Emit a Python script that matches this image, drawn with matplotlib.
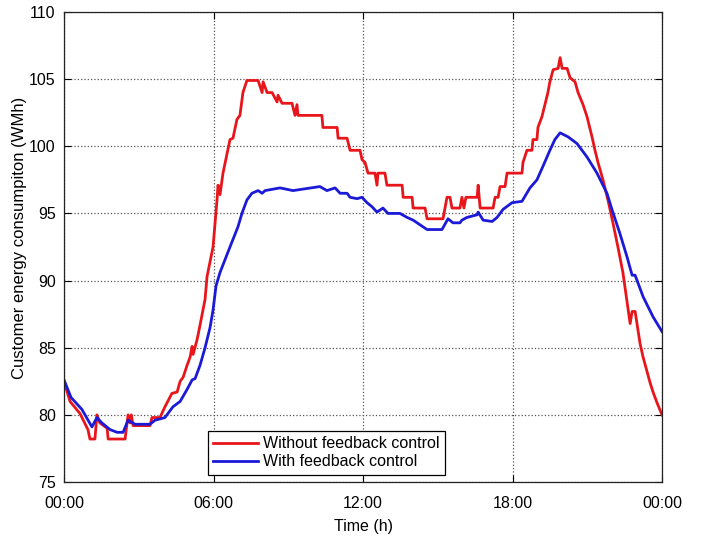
import matplotlib
matplotlib.use('Agg')
import matplotlib.pyplot as plt

plt.rcParams['font.family'] = ['Liberation Sans', 'DejaVu Sans']

# time in hours, consumption in WMh
t_without = [0.0, 0.24, 0.64, 0.96, 1.04, 1.24, 1.32, 1.44, 1.73, 1.77, 2.45, 2.57, 2.65,
             2.70, 2.77, 3.45, 3.53, 3.85, 4.05, 4.33, 4.54, 4.66, 4.78, 4.94, 5.06, 5.14,
             5.18, 5.34, 5.46, 5.66, 5.74, 5.98, 6.14, 6.18, 6.26, 6.38, 6.66, 6.78, 6.94,
             7.06, 7.18, 7.34, 7.79, 7.95, 7.99, 8.15, 8.35, 8.55, 8.59, 8.75, 9.15, 9.27,
             9.35, 9.39, 10.35, 10.39, 10.96, 11.00, 11.36, 11.48, 11.88, 11.96, 12.08,
             12.20, 12.48, 12.56, 12.60, 12.88, 12.96, 13.57, 13.61, 13.97, 14.01, 14.49,
             14.57, 15.21, 15.37, 15.49, 15.57, 15.89, 15.97, 16.05, 16.13, 16.58, 16.62,
             16.70, 17.22, 17.30, 17.42, 17.50, 17.70, 17.78, 18.38, 18.42, 18.58, 18.78,
             18.82, 18.98, 19.02, 19.18, 19.30, 19.42, 19.50, 19.63, 19.83, 19.91, 19.99,
             20.19, 20.31, 20.51, 20.63, 20.83, 20.99, 21.19, 21.31, 21.43, 21.63, 21.83,
             22.03, 22.23, 22.43, 22.72, 22.80, 22.92, 23.12, 23.24, 23.52, 23.64, 23.80,
             24.0]
without_fb = [82.5, 81.0, 80.1, 78.9, 78.2, 78.2, 80.0, 79.4, 79.0, 78.2, 78.2, 80.0, 79.4,
              80.0, 79.2, 79.2, 79.8, 79.8, 80.6, 81.6, 81.7, 82.5, 82.8, 83.7, 84.3, 85.1,
              84.5, 85.6, 86.7, 88.6, 90.3, 92.5, 96.0, 97.1, 96.4, 98.0, 100.5, 100.6, 102.0,
              102.3, 104.0, 104.9, 104.9, 104.0, 104.8, 104.0, 104.0, 103.3, 103.8, 103.2,
              103.2, 102.3, 103.1, 102.3, 102.3, 101.4, 101.4, 100.6, 100.6, 99.7, 99.7,
              99.0, 98.8, 98.0, 98.0, 97.1, 98.0, 98.0, 97.1, 97.1, 96.2, 96.2, 95.4, 95.4,
              94.6, 94.6, 96.2, 96.2, 95.4, 95.4, 96.2, 95.4, 96.2, 96.2, 97.1, 95.4, 95.4,
              96.2, 96.2, 97.0, 97.0, 98.0, 98.0, 98.8, 99.7, 99.7, 100.5, 100.5, 101.4,
              102.2, 103.1, 104.0, 104.8, 105.7, 105.8, 106.6, 105.8, 105.8, 105.1, 104.8,
              104.0, 103.1, 102.2, 100.7, 99.7, 98.8, 97.5, 96.0, 94.3, 92.5, 90.6, 86.8,
              87.7, 87.7, 85.3, 84.3, 82.4, 81.7, 80.9, 80.0]

t_with = [0.0, 0.28, 0.72, 1.12, 1.32, 1.52, 1.85, 2.13, 2.37, 2.57, 2.85, 3.45, 3.65, 4.05,
          4.37, 4.66, 4.94, 5.14, 5.26, 5.46, 5.66, 5.86, 5.98, 6.10, 6.26, 6.66, 6.98, 7.14,
          7.34, 7.54, 7.79, 7.95, 8.07, 8.67, 9.19, 10.27, 10.55, 10.88, 11.08, 11.36, 11.48,
          11.76, 11.96, 12.16, 12.36, 12.56, 12.80, 13.00, 13.48, 13.77, 14.01, 14.17, 14.57,
          15.17, 15.41, 15.61, 15.89, 15.97, 16.17, 16.58, 16.62, 16.82, 17.18, 17.38, 17.62,
          17.98, 18.38, 18.70, 18.98, 19.22, 19.50, 19.70, 19.91, 20.23, 20.59, 20.99, 21.39,
          21.79, 21.99, 22.31, 22.59, 22.80, 22.92, 23.24, 23.64, 24.0]
with_fb = [82.6, 81.3, 80.4, 79.1, 79.8, 79.4, 78.9, 78.7, 78.7, 79.6, 79.3, 79.3, 79.6, 79.8,
           80.6, 81.0, 81.9, 82.6, 82.7, 83.7, 85.0, 86.5, 87.8, 89.6, 90.6, 92.5, 94.0, 95.0,
           96.0, 96.5, 96.7, 96.5, 96.7, 96.9, 96.7, 97.0, 96.7, 96.9, 96.5, 96.5, 96.2,
           96.1, 96.2, 95.8, 95.5, 95.1, 95.4, 95.0, 95.0, 94.7, 94.5, 94.3, 93.8,
           93.8, 94.6, 94.3, 94.3, 94.5, 94.7, 94.9, 95.1, 94.5, 94.4, 94.7, 95.3,
           95.8, 95.9, 96.9, 97.5, 98.5, 99.7, 100.5, 101.0, 100.7, 100.2, 99.2, 98.0,
           96.5, 95.3, 93.5, 91.8, 90.4, 90.4, 88.8, 87.3, 86.2]

x_ticks = [0, 6, 12, 18, 24]
x_labels = ['00:00', '06:00', '12:00', '18:00', '00:00']
y_ticks = [75, 80, 85, 90, 95, 100, 105, 110]

fig = plt.figure(figsize=(7.06, 5.37), dpi=100)
ax = fig.add_axes([0.0907, 0.1024, 0.847, 0.8753])

ax.plot(t_without, without_fb, color='#e8161b', linewidth=2.0, label='Without feedback control')
ax.plot(t_with, with_fb, color='#1a1ad8', linewidth=2.0, label='With feedback control')

ax.set_xlim(0, 24)
ax.set_ylim(75, 110)
ax.set_xticks(x_ticks)
ax.set_xticklabels(x_labels)
ax.set_yticks(y_ticks)
ax.tick_params(direction='in', length=5, top=True, right=True, labelsize=11.5, width=0.8)
ax.tick_params(axis='x', pad=10)
ax.tick_params(axis='y', pad=6)
ax.grid(True, linestyle=':', color='#555555', linewidth=0.9)
for s in ax.spines.values():
    s.set_linewidth(0.9)
    s.set_color('#222222')

ax.set_xlabel('Time (h)', fontsize=11.5, labelpad=6)
ax.set_ylabel('Customer energy consumpiton (WMh)', fontsize=12)
ax.yaxis.set_label_coords(-0.062, 0.52)

leg = ax.legend(loc='lower left', bbox_to_anchor=(0.24, 0.015), fontsize=11.5,
                fancybox=False, edgecolor='black', framealpha=1, borderaxespad=0,
                handlelength=2.8, handletextpad=0.3, borderpad=0.35, labelspacing=0.2)
leg.get_frame().set_linewidth(0.9)

fig.savefig('out.png', dpi=100)
